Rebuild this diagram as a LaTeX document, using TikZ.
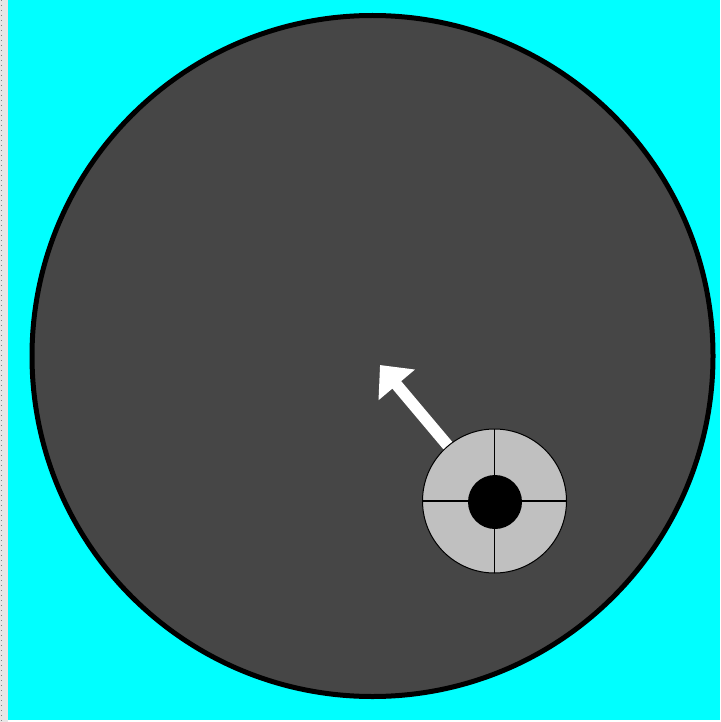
\documentclass[tikz,border=0pt]{standalone}
\usepackage{tikz}
\usetikzlibrary{arrows.meta}
\usepackage{xcolor}
\definecolor{ScopeCyan}{HTML}{00FFFF}
\definecolor{ScopeDish}{HTML}{464646}
\definecolor{ScopeHub}{HTML}{C0C0C0}
\definecolor{ScopeEdge}{HTML}{E6E6E6}

\begin{document}
\begin{tikzpicture}[x=0.5pt,y=-0.5pt, every node/.style={inner sep=0pt,outer sep=0pt}]
\useasboundingbox (0,0) rectangle (720,722);
\fill[ScopeEdge] (0,0) rectangle (8,722);
\draw[gray,dotted,line width=0.5pt] (1,0) -- (1,722);
\fill[ScopeCyan] (8,0) rectangle (720,720);
\fill[white] (8,720) rectangle (720,722);
\node[circle,draw=black,fill=ScopeDish,line width=2.5pt,minimum size=340.5pt] (dish) at (372.5,356) {};
\coordinate (tip) at (380,365);
\draw[-{Triangle[length=13pt,width=23pt]},white,line width=5.8pt] (494.5,501) -- (tip);
\node[circle,draw=black,fill=ScopeHub,line width=0.5pt,minimum size=72pt] (hub) at (494.5,501) {};
\draw[black,line width=0.6pt] (hub.north) -- (hub.south);
\draw[black,line width=0.6pt] (hub.west) -- (hub.east);
\node[circle,fill=black,minimum size=27pt] (eye) at (495,502) {};
\end{tikzpicture}
\end{document}
